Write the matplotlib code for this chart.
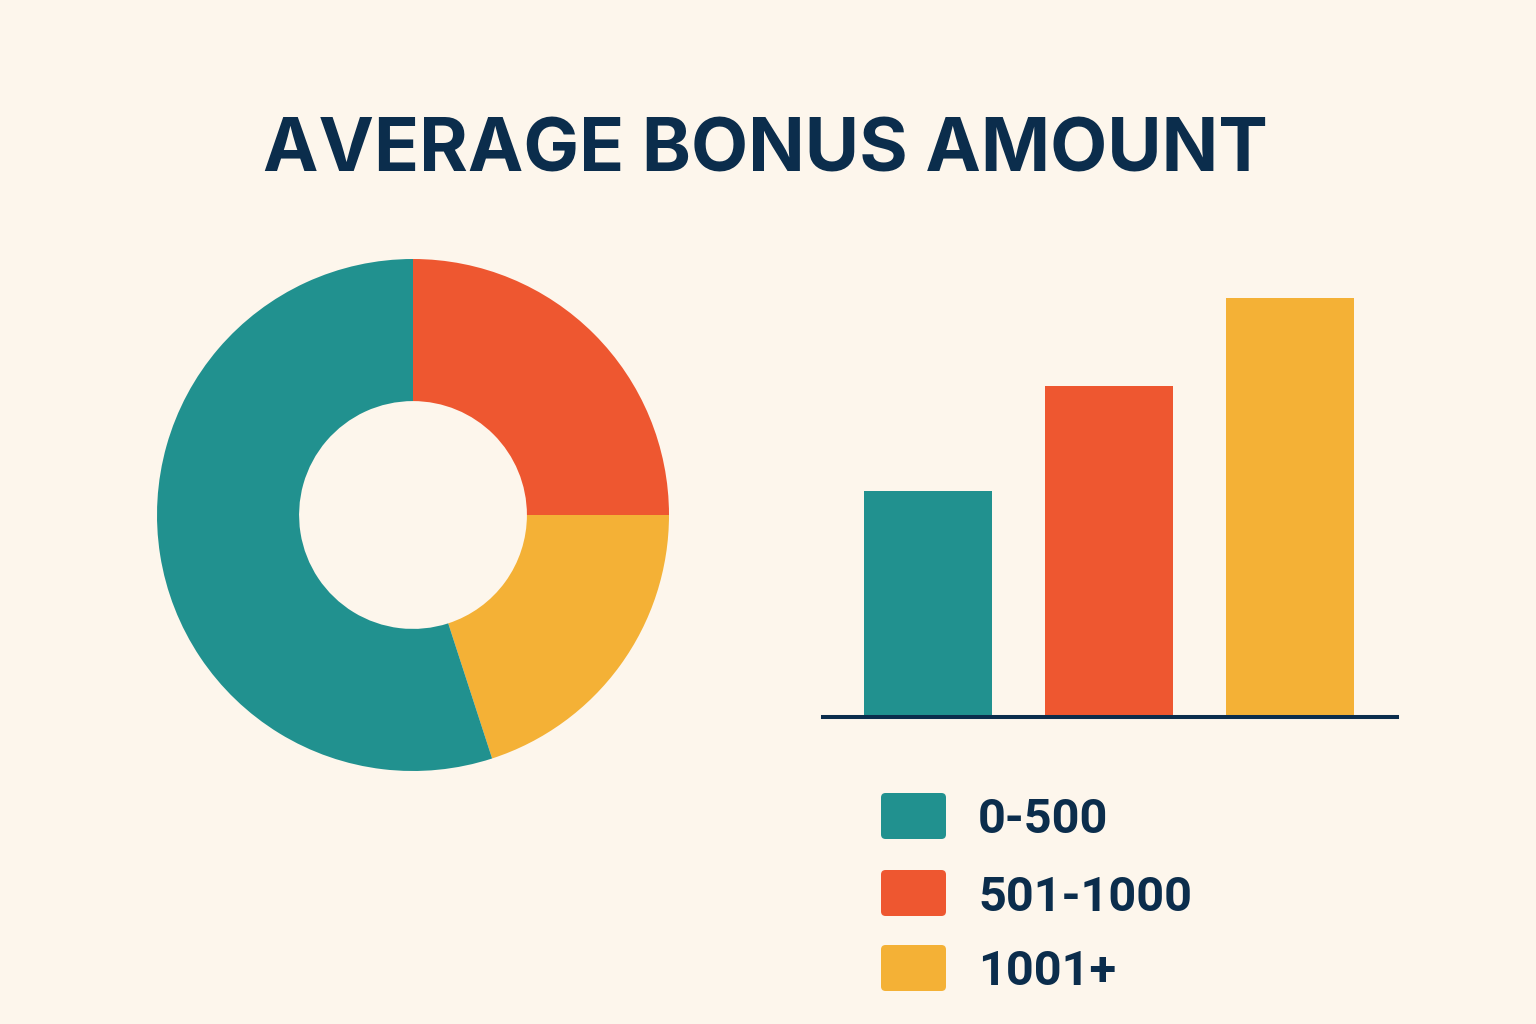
import matplotlib
matplotlib.use("Agg")
import matplotlib.pyplot as plt
from matplotlib.patches import FancyBboxPatch

# ---- data ----
categories = ["0-500", "501-1000", "1001+"]
share_values = [55, 25, 20]          # donut shares (%)
bar_values = [5.4, 7.9, 10.0]        # relative average bonus
colors = ["#21918f", "#ee5730", "#f4b136"]
title = "AVERAGE BONUS AMOUNT"

BG = "#fdf6ec"
NAVY = "#0b2d4c"
W, H = 1536, 1024

plt.rcParams['font.family'] = ['Inter', 'DejaVu Sans']

fig = plt.figure(figsize=(W / 100, H / 100), dpi=100, facecolor=BG)

def fx(px):
    return px / W

def fy(py):
    return 1 - py / H

# title
fig.text(fx(765), fy(171), title, ha="center", va="baseline",
         fontsize=53.5, fontweight="bold", color=NAVY)

# ---- donut ----
cx, cy, R = 413, 515, 256
axd = fig.add_axes([fx(cx - R), fy(cy + R), 2 * R / W, 2 * R / H])
axd.set_facecolor(BG)
order = [1, 2, 0]  # red first from top, clockwise: red, yellow, teal
axd.pie([share_values[i] for i in order],
        colors=[colors[i] for i in order],
        startangle=90, counterclock=False, radius=1.0,
        wedgeprops=dict(width=0.555, edgecolor="none"))
axd.set_xlim(-1, 1)
axd.set_ylim(-1, 1)
axd.set_aspect("equal")
axd.axis("off")

# ---- bars ----
base_y, top_y = 717, 298
left_px, right_px = 823, 1397
step = 181.0
c0 = 928
axb = fig.add_axes([fx(left_px), fy(base_y), (right_px - left_px) / W, (base_y - top_y) / H])
axb.set_facecolor("none")
xs = list(range(len(categories)))
axb.bar(xs, bar_values, width=128 / step, color=colors, edgecolor="none")
axb.set_xlim(-(c0 - left_px) / step, -(c0 - left_px) / step + (right_px - left_px) / step)
axb.set_ylim(0, max(bar_values))
axb.axhline(0, color=NAVY, lw=2.9, clip_on=False, zorder=5)
axb.axis("off")

# ---- legend ----
sq_tops = [793, 870, 945]
baselines = [833, 911, 985]
for i, lab in enumerate(categories):
    p = FancyBboxPatch((fx(881), fy(sq_tops[i] + 46)), 65 / W, 46 / H,
                       boxstyle="round,pad=0,rounding_size=0.003",
                       transform=fig.transFigure, facecolor=colors[i],
                       edgecolor="none", mutation_aspect=W / H)
    fig.patches.append(p)
    fig.text(fx(978), fy(baselines[i]), lab, ha="left", va="baseline",
             fontsize=35, fontweight="bold", color=NAVY,
             family=["Roboto", "DejaVu Sans"])

fig.savefig("out.png", dpi=100, facecolor=BG)
